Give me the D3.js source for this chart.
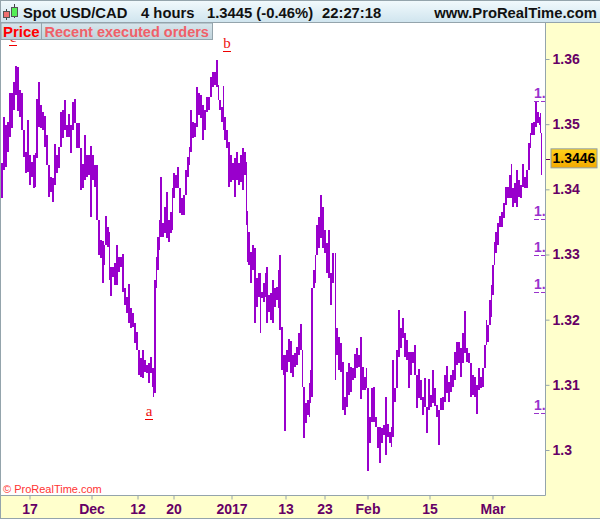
<!DOCTYPE html>
<html><head><meta charset="utf-8"><script src="https://cdn.jsdelivr.net/npm/d3@7"></script>
<style>html,body{margin:0;padding:0;background:#fff}svg{display:block;font-family:"Liberation Sans",Arial,sans-serif}</style></head>
<body><div id="c"></div>
<script>
// 4-hour bar numbers, and high / low quotes in 1/10000 of a CAD
const barNos=[1,3,5,7,9,11,13,15,17,19,21,23,25,27,29,31,33,35,36,38,40,42,44,46,48,50,52,54,56,58,60,62,64,66,68,70,72,74,76,78,80,82,84,86,88,90,92,94,96,98,100,102,104,105,107,109,110,112,114,116,118,120,122,124,126,128,130,132,134,136,138,140,142,144,146,148,150,152,153,154,156,157,159,160,162,164,166,168,170,172,173,175,177,179,181,183,185,187,189,190,192,194,196,198,200,202,204,206,208,210,212,214,216,218,219,221,223,224,226,228,230,232,234,236,238,240,242,244,246,247,248,250,252,254,256,258,260,261,263,265,266,268,270,272,274,276,278,279,281,283,284,286,288,290,292,294,296,298,300,302,303,305,307,309,310,311,313,315,316,318,320,322,324,326,328,330,332,335,336,338,340,342,344,346,348,350,352,354,356,358,360,362,364,366,367,369,371,373,375,377,379,381,383,385,387,389,391,392,394,396,398,400,402,404,406,408,410,412,414,416,418,420,422,424,426,428,430,432,434,436,438,440,442,444,446,448,450,452,454,456,458,460,462,464,466,468,470,472,474,476,478,480,482,484,486,487,489,491,492,494,495,497,499,501,503,505,507,509,511,512,514,516,518,520,522,524,526,528,530,531,533,535,537,539,540,541];
const highs=[13440,13511,13499,13503,13548,13548,13565,13589,13588,13552,13548,13483,13457,13506,13453,13442,13453,13456,13539,13565,13529,13519,13512,13483,13430,13419,13417,13470,13453,13465,13519,13522,13537,13499,13516,13499,13534,13539,13483,13502,13427,13439,13483,13453,13453,13467,13453,13437,13437,13345,13322,13320,13315,13359,13342,13334,13281,13281,13287,13315,13296,13296,13301,13249,13235,13255,13218,13210,13195,13181,13153,13141,13153,13138,13130,13134,13143,13126,13126,13261,13296,13327,13353,13419,13348,13373,13396,13353,13365,13402,13425,13422,13434,13394,13387,13391,13430,13450,13465,13522,13503,13502,13557,13548,13545,13529,13522,13542,13542,13572,13580,13580,13598,13560,13537,13526,13559,13511,13491,13473,13453,13440,13448,13457,13440,13453,13463,13457,13442,13367,13334,13304,13315,13310,13264,13272,13272,13242,13256,13272,13281,13238,13241,13261,13249,13250,13276,13299,13189,13146,13146,13153,13170,13167,13146,13149,13158,13180,13193,13153,13080,13072,13077,13103,13123,13249,13276,13299,13345,13358,13391,13373,13338,13318,13338,13272,13302,13302,13187,13173,13164,13135,13081,13120,13134,13127,13126,13147,13157,13146,13173,13127,13112,13126,13051,13051,13095,13097,13051,13028,13035,13034,13038,13081,13040,13028,13035,13138,13095,13153,13215,13187,13203,13180,13169,13150,13150,13150,13161,13100,13124,13107,13081,13110,13061,13109,13084,13123,13095,13069,13061,13080,13081,13115,13129,13104,13115,13123,13150,13166,13166,13157,13180,13213,13157,13149,13123,13115,13112,13100,13126,13112,13126,13161,13200,13192,13230,13253,13284,13319,13334,13348,13359,13365,13379,13404,13404,13422,13439,13402,13410,13430,13414,13407,13439,13419,13430,13471,13486,13502,13503,13534,13519,13511,13517,13486];
const lows=[13387,13430,13434,13457,13480,13494,13522,13545,13520,13511,13491,13450,13425,13427,13407,13419,13402,13404,13448,13496,13494,13491,13465,13437,13388,13396,13381,13407,13425,13433,13465,13479,13491,13480,13480,13456,13491,13502,13463,13463,13399,13402,13414,13419,13422,13358,13414,13404,13353,13299,13295,13256,13284,13325,13311,13261,13236,13265,13253,13253,13273,13281,13242,13222,13210,13195,13187,13189,13164,13153,13115,13112,13110,13120,13118,13103,13118,13097,13081,13088,13249,13276,13307,13327,13327,13333,13325,13319,13333,13338,13387,13402,13402,13364,13361,13361,13399,13419,13437,13457,13479,13480,13496,13514,13509,13476,13491,13519,13522,13545,13557,13560,13557,13537,13522,13503,13491,13476,13463,13404,13411,13414,13388,13414,13407,13411,13399,13422,13345,13288,13284,13256,13276,13195,13219,13235,13180,13233,13227,13235,13195,13212,13200,13195,13219,13230,13218,13184,13123,13115,13029,13120,13135,13118,13112,13127,13130,13146,13153,13097,13018,13042,13054,13051,13072,13081,13256,13256,13307,13310,13325,13310,13302,13272,13264,13222,13256,13107,13146,13123,13120,13061,13054,13066,13084,13089,13107,13110,13126,13127,13078,13092,13092,13095,12968,13011,13043,13043,13035,13003,12980,13011,13023,12992,13020,13011,13005,13020,13074,13095,13143,13157,13172,13143,13138,13095,13115,13134,13115,13064,13080,13077,13054,13066,13026,13066,13066,13072,13068,13051,13008,13061,13061,13074,13088,13074,13089,13097,13107,13130,13134,13112,13134,13149,13135,13134,13081,13084,13081,13055,13092,13095,13097,13149,13169,13166,13195,13204,13238,13287,13302,13315,13342,13342,13356,13376,13387,13387,13387,13373,13379,13373,13388,13387,13404,13402,13402,13433,13463,13483,13483,13496,13502,13499,13486,13422];
const priceTicks=[1.30,1.31,1.32,1.33,1.34,1.35,1.36];
const timeTickBars=[29,91,137,173,231,285,324,367,429,492];
const timeTickLabels=["17","Dec","12","20","2017","13","23","Feb","15","Mar"];
const levelPrices=[1.3536,1.3355,1.3299,1.3243,1.3057];
const waveLabels=["c","b","a"];
const wavePrices=[1.3621,1.3612,1.3048];
const waveBars=[13,227,149];
const lastPrice=1.3446;

const W=600,H=519,L=1,R=545.5,T=23,B=495.5;
const svg=d3.select("#c").append("svg").attr("width",W).attr("height",H);
const defs=svg.append("defs");
const lin=(id,stops)=>{const g=defs.append("linearGradient").attr("id",id).attr("x1",0).attr("x2",0).attr("y1",0).attr("y2",1);
  stops.forEach((s,i)=>g.append("stop").attr("offset",i/(stops.length-1)).attr("stop-color",s));};
lin("hdr",["#f2fafd","#cfe4ee"]);lin("gold",["#ffd21a","#f2a900"]);lin("tab",["#d8e6ec","#bfd2db"]);
defs.append("clipPath").attr("id","plot").append("rect").attr("x",L).attr("y",T).attr("width",R-L).attr("height",B-T);

const y=d3.scaleLinear().domain([1.30,1.36]).range([450,59]);
const x=d3.scaleLinear().domain([0,545]).range([0,545]);

// backgrounds
svg.append("rect").attr("width",W).attr("height",H).attr("fill","#ffffcc");
svg.append("rect").attr("x",1).attr("y",T).attr("width",R-1).attr("height",B-T).attr("fill","#fff");
svg.append("rect").attr("x",0).attr("y",0).attr("width",W).attr("height",23).attr("fill","url(#hdr)");
const gray="#94a4ac";
svg.append("path").attr("d",`M0.5,0V${H}M0,0.5H600M0,22.5H600M545.5,23V495.5M0,495.5H545.5M0,518.5H600`).attr("stroke",gray).attr("fill","none");

// price bars: each bar also reaches the previous bar's range, since a bar opens where the last one closed
const plot=svg.append("g").attr("clip-path","url(#plot)");
const barData=barNos.map((n,i)=>{
  let hi=highs[i],lo=lows[i];
  if(i>0){ if(lo>highs[i-1]) lo=highs[i-1]; if(hi<lows[i-1]) hi=lows[i-1]; }
  return {n,hi:hi/1e4,lo:lo/1e4,next:i<barNos.length-1?barNos[i+1]:n+1};
});
plot.selectAll("rect.bar").data(barData).join("rect").attr("class","bar")
  .attr("x",d=>x(d.n)).attr("width",d=>Math.min(2,x(d.next)-x(d.n)))
  .attr("y",d=>y(d.hi)).attr("height",d=>y(d.lo)-y(d.hi))
  .attr("fill","#9900cc").attr("shape-rendering","crispEdges");

// level markers
const lv=plot.selectAll("g.lv").data(levelPrices).join("g").attr("class","lv");
lv.append("line").attr("x1",534).attr("x2",545).attr("y1",d=>Math.round(y(d))+.5).attr("y2",d=>Math.round(y(d))+.5)
  .attr("stroke","#9933cc").attr("stroke-dasharray","5 2");
lv.append("text").attr("x",534).attr("y",d=>y(d)-3).text("1.").attr("fill","#9933cc")
  .attr("font-size",14).attr("font-weight","bold");

// wave labels
const wv=svg.selectAll("g.wv").data(waveLabels).join("g").attr("class","wv");
wv.append("text").attr("x",(d,i)=>x(waveBars[i])).attr("y",(d,i)=>y(wavePrices[i])-3).attr("text-anchor","middle")
  .attr("font-family","'Liberation Serif',serif").attr("font-size",15).attr("fill","#ee1111").text(d=>d);
wv.append("line").attr("x1",(d,i)=>x(waveBars[i])-4).attr("x2",(d,i)=>x(waveBars[i])+4)
  .attr("y1",(d,i)=>Math.round(y(wavePrices[i]))+.5).attr("y2",(d,i)=>Math.round(y(wavePrices[i]))+.5)
  .attr("stroke","#e00").attr("stroke-width",1);

// tabs drawn over the c label
svg.append("rect").attr("x",1).attr("y",23).attr("width",40.5).attr("height",16.5).attr("fill","url(#tab)").attr("stroke",gray);
svg.append("rect").attr("x",41.5).attr("y",23).attr("width",171).attr("height",16.5).attr("fill","url(#tab)").attr("stroke",gray);
svg.append("text").attr("x",3).attr("y",37).text("Price").attr("fill","#ff0000").attr("font-weight","bold").attr("font-size",15);
svg.append("text").attr("x",44.5).attr("y",36.5).text("Recent executed orders").attr("fill","#f06068").attr("font-weight","bold").attr("font-size",14.5);

// header
const hdr=[["Spot USD/CAD",23],["4 hours",141],["1.3445 (-0.46%)",207],["22:27:18",322]];
svg.selectAll("text.h").data(hdr).join("text").attr("class","h").attr("x",d=>d[1]).attr("y",18)
  .text(d=>d[0]).attr("font-weight","bold").attr("font-size",14.8).attr("fill","#111");
svg.append("text").attr("x",597).attr("y",18).attr("text-anchor","end").text("www.ProRealTime.com")
  .attr("font-weight","bold").attr("font-size",14.8).attr("fill","#111");
// candle icon
svg.append("path").attr("d","M6.5,9V20M14.5,4V18").attr("stroke","#444");
svg.append("rect").attr("x",3.5).attr("y",11.5).attr("width",6).attr("height",6).attr("fill","#f07070").attr("stroke","#555");
svg.append("rect").attr("x",11.5).attr("y",7.5).attr("width",6).attr("height",9).attr("fill","#55ee55").attr("stroke","#555");

svg.append("text").attr("x",3).attr("y",493).text("© ProRealTime.com").attr("fill","#ff3333").attr("font-size",11);

// axes
const ink="#660066";
const ay=d3.axisRight(y).tickValues(priceTicks).tickSize(4).tickPadding(3).tickFormat(d=>d3.format(".2~f")(d));
const gy=svg.append("g").attr("transform","translate(545.5,0)").call(ay);
gy.select(".domain").remove();
gy.selectAll("line").attr("stroke",gray);
gy.selectAll("text").attr("fill",ink).attr("font-size",14).attr("font-weight","bold").attr("font-family","inherit").attr("x",7);

const ax=d3.axisBottom(x).tickValues(timeTickBars).tickSize(4).tickPadding(5).tickFormat((d,i)=>timeTickLabels[i]);
const gx=svg.append("g").attr("transform","translate(0.5,495.5)").call(ax);
gx.select(".domain").remove();
gx.selectAll("line").attr("stroke",gray);
gx.selectAll("text").attr("fill",ink).attr("font-size",14).attr("font-weight","bold").attr("font-family","inherit");

// last price flag
svg.append("line").attr("x1",546).attr("x2",550).attr("y1",Math.round(y(lastPrice))+.5).attr("y2",Math.round(y(lastPrice))+.5).attr("stroke",ink);
svg.append("rect").attr("x",551).attr("y",y(lastPrice)-10.5).attr("width",46).attr("height",19).attr("fill","url(#gold)").attr("stroke","#8e9ea6");
svg.append("text").attr("x",574).attr("y",y(lastPrice)+4).attr("text-anchor","middle").text(d3.format(".4f")(lastPrice))
  .attr("font-weight","bold").attr("font-size",14).attr("fill","#000");
</script></body></html>
